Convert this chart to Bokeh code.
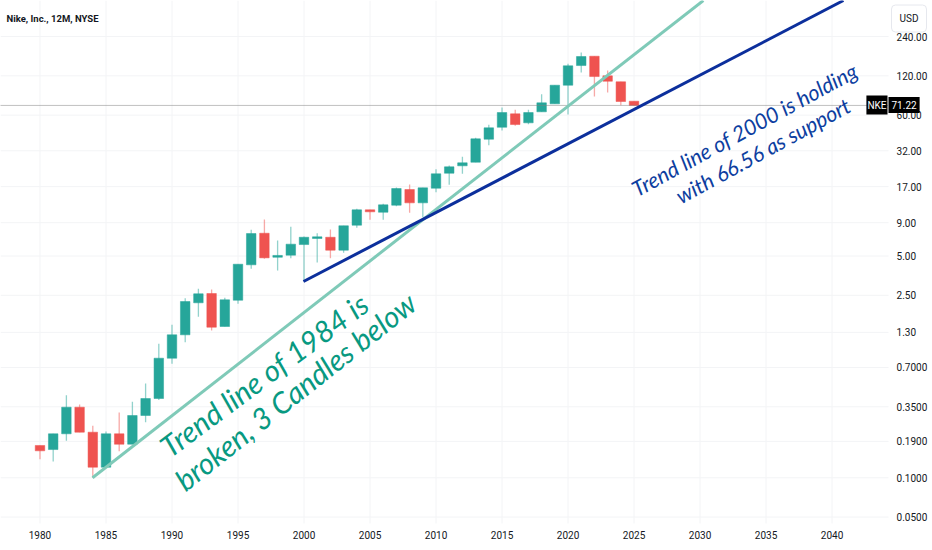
from bokeh.plotting import figure
from bokeh.models import FixedTicker, Label, ColumnDataSource
from bokeh.embed import file_html
from bokeh.resources import INLINE

years = list(range(1980, 2026))
highs = [0.1768,0.2172,0.4291,0.3642,0.2502,0.2262,0.3162,0.3819,0.5275,1.062,1.485,2.375,2.804,2.768,2.391,4.325,
         7.93,9.51,6.57,8.37,7.05,7.47,7.98,8.52,11.49,11.29,12.55,16.73,17.64,16.64,23.11,24.67,28.76,40.19,50.55,68.6,
         65.9,65.9,86.7,101.7,148.3,180.9,169.6,131.8,108,76.7]
lows = [0.1388,0.1332,0.1920,0.2235,0.0999,0.1205,0.1598,0.1808,0.2666,0.395,0.7467,1.093,1.711,1.343,1.442,2.151,
        3.989,4.76,3.87,4.81,3.20,4.46,4.81,5.29,8.22,9.46,9.46,12.03,10.71,9.91,15.40,17.55,21.31,26.14,35.29,45.73,
        49.67,51.09,63.6,73.2,60.6,127.2,83.3,89.4,71.4,71.22]
body_tops = [0.1768,0.2172,0.3473,0.3473,0.2235,0.2172,0.2172,0.3000,0.4049,0.8241,1.245,2.240,2.567,2.580,2.308,4.325,
             7.43,7.47,5.05,6.16,6.96,7.01,6.96,8.52,11.29,11.29,12.33,16.44,16.15,16.64,21.31,24.10,25.87,39.50,47.95,62.81,
             61.39,62.81,74.5,101.7,143.2,168.7,169.6,120,108,76.7]
body_bottoms = [0.1609,0.1646,0.2172,0.2235,0.1205,0.1205,0.1808,0.1808,0.3000,0.4049,0.8241,1.245,2.190,1.424,1.442,2.292,
                4.280,4.84,4.89,5.07,6.12,6.81,5.54,5.54,8.61,10.90,10.82,12.25,12.77,12.77,16.53,21.53,24.54,26.14,39.22,48.45,
                50.82,52.37,63.6,73.2,101.7,143.9,118.5,109.1,76.3,71.22]
falling_years = [1980,1983,1984,1986,1993,1997,2002,2005,2008,2016,2022,2023,2024,2025]

price_ticks = [0.05,0.1,0.19,0.35,0.7,1.3,2.5,5,9,17,32,60,120,240]
price_labels = ["0.0500","0.1000","0.1900","0.3500","0.7000","1.30","2.50","5.00","9.00","17.00","32.00","60.00","120.00","240.00"]
year_ticks = list(range(1980, 2045, 5))
last_price = 71.22

trend_1984_x, trend_1984_y = [1983.98, 2030.25], [0.1, 453]
trend_2000_x, trend_2000_y = [1999.96, 2040.86], [3.19, 453]

GREEN, RED = "#26a69a", "#ef5350"
GRID = "#f3f4f6"
FONT = "Roboto"
BIG = "Lato"
X_MIN, X_EDGE, X_MAX = 1977.008, 2044.28, 2047.61
Y_MIN, Y_EDGE, Y_MAX = 0.02773, 0.04465, 453.2
H = 550

p = figure(width=932, height=H, output_backend="svg", toolbar_location=None,
           x_range=(X_MIN, X_MAX), y_range=(Y_MIN, Y_MAX), y_axis_type="log", y_axis_location="right",
           min_border=0, background_fill_color="white", outline_line_color=None)
p.grid.visible = False

p.xaxis.ticker = FixedTicker(ticks=year_ticks)
p.yaxis.ticker = FixedTicker(ticks=price_ticks)
p.yaxis.major_label_overrides = dict(zip(price_ticks, price_labels))
p.xaxis.fixed_location = Y_EDGE
p.yaxis.fixed_location = X_EDGE
for ax in (p.xaxis[0], p.yaxis[0]):
    ax.axis_line_color = None
    ax.major_tick_line_color = None
    ax.minor_tick_line_color = None
    ax.major_tick_out = 0
    ax.major_tick_in = 0
    ax.major_label_text_font = FONT
    ax.major_label_text_font_size = "10px"
    ax.major_label_text_color = "#131722"
p.yaxis.major_label_standoff = 8
p.xaxis.major_label_standoff = 8

p.segment(x0=year_ticks, y0=[Y_EDGE] * len(year_ticks), x1=year_ticks, y1=[Y_MAX] * len(year_ticks), line_color=GRID)
p.segment(x0=[X_MIN] * len(price_ticks), y0=price_ticks, x1=[X_EDGE] * len(price_ticks), y1=price_ticks, line_color=GRID)

colors = [RED if y in falling_years else GREEN for y in years]
src = ColumnDataSource(dict(x=years, hi=highs, lo=lows, top=body_tops, bot=body_bottoms, c=colors))
p.segment("x", "lo", "x", "hi", source=src, line_color="c", line_alpha=0.5, line_width=1.3)
p.vbar("x", 0.72, "top", "bot", source=src, fill_color="c", line_color="c", line_alpha=0.5, line_width=1)

p.line([X_MIN, X_EDGE], [last_price, last_price], line_color="#808080", line_width=1, line_dash=[1, 1])
p.line(trend_1984_x, trend_1984_y, line_color="#7fcab8", line_width=3)
p.line(trend_2000_x, trend_2000_y, line_color="#0c2f9c", line_width=3)

def ref_label(text, rx, ry, **kw):
    p.add_layout(Label(x=rx, y=H - ry, x_units="screen", y_units="screen", text=text, **kw))

for txt, rx, ry, ang in (("Trend line of 1984 is", 163, 449, 0.64), ("broken, 3 Candles below", 178, 483, 0.67)):
    ref_label(txt, rx, ry, angle=ang, text_font=BIG, text_font_size="29.5px", text_font_style="italic",
              text_color="#089981", text_align="left", text_baseline="middle")
for txt, rx, ry, ang in (("Trend line of 2000 is holding", 633, 190, 0.50), ("with 66.56 as support", 677, 197, 0.50)):
    ref_label(txt, rx, ry, angle=ang, text_font=BIG, text_font_size="21.5px", text_font_style="italic",
              text_color="#0d3ea0", text_align="left", text_baseline="middle")

ref_label("Nike, Inc., 12M, NYSE", 6, 18, text_font=FONT, text_font_size="9.5px", text_font_style="bold",
          text_color="#131722", text_align="left", text_baseline="middle")
ref_label("USD", 891, 18, text_font=FONT, text_font_size="10px", text_color="#131722",
          text_align="left", text_baseline="middle", background_fill_color="white",
          border_line_color="#e6e8ee", border_radius=4, padding=(8, 8))

ref_label("NKE", 887, 104.5, text_font=FONT, text_font_size="10px", text_color="white", text_align="right",
          text_baseline="middle", background_fill_color="black", padding=(1, 4))
ref_label(f"{last_price:.2f}", 888, 104.5, text_font=FONT, text_font_size="10px", text_color="white", text_align="left",
          text_baseline="middle", background_fill_color="black", padding=(3, 4))

open("out.html", "w").write(file_html(p, INLINE))
